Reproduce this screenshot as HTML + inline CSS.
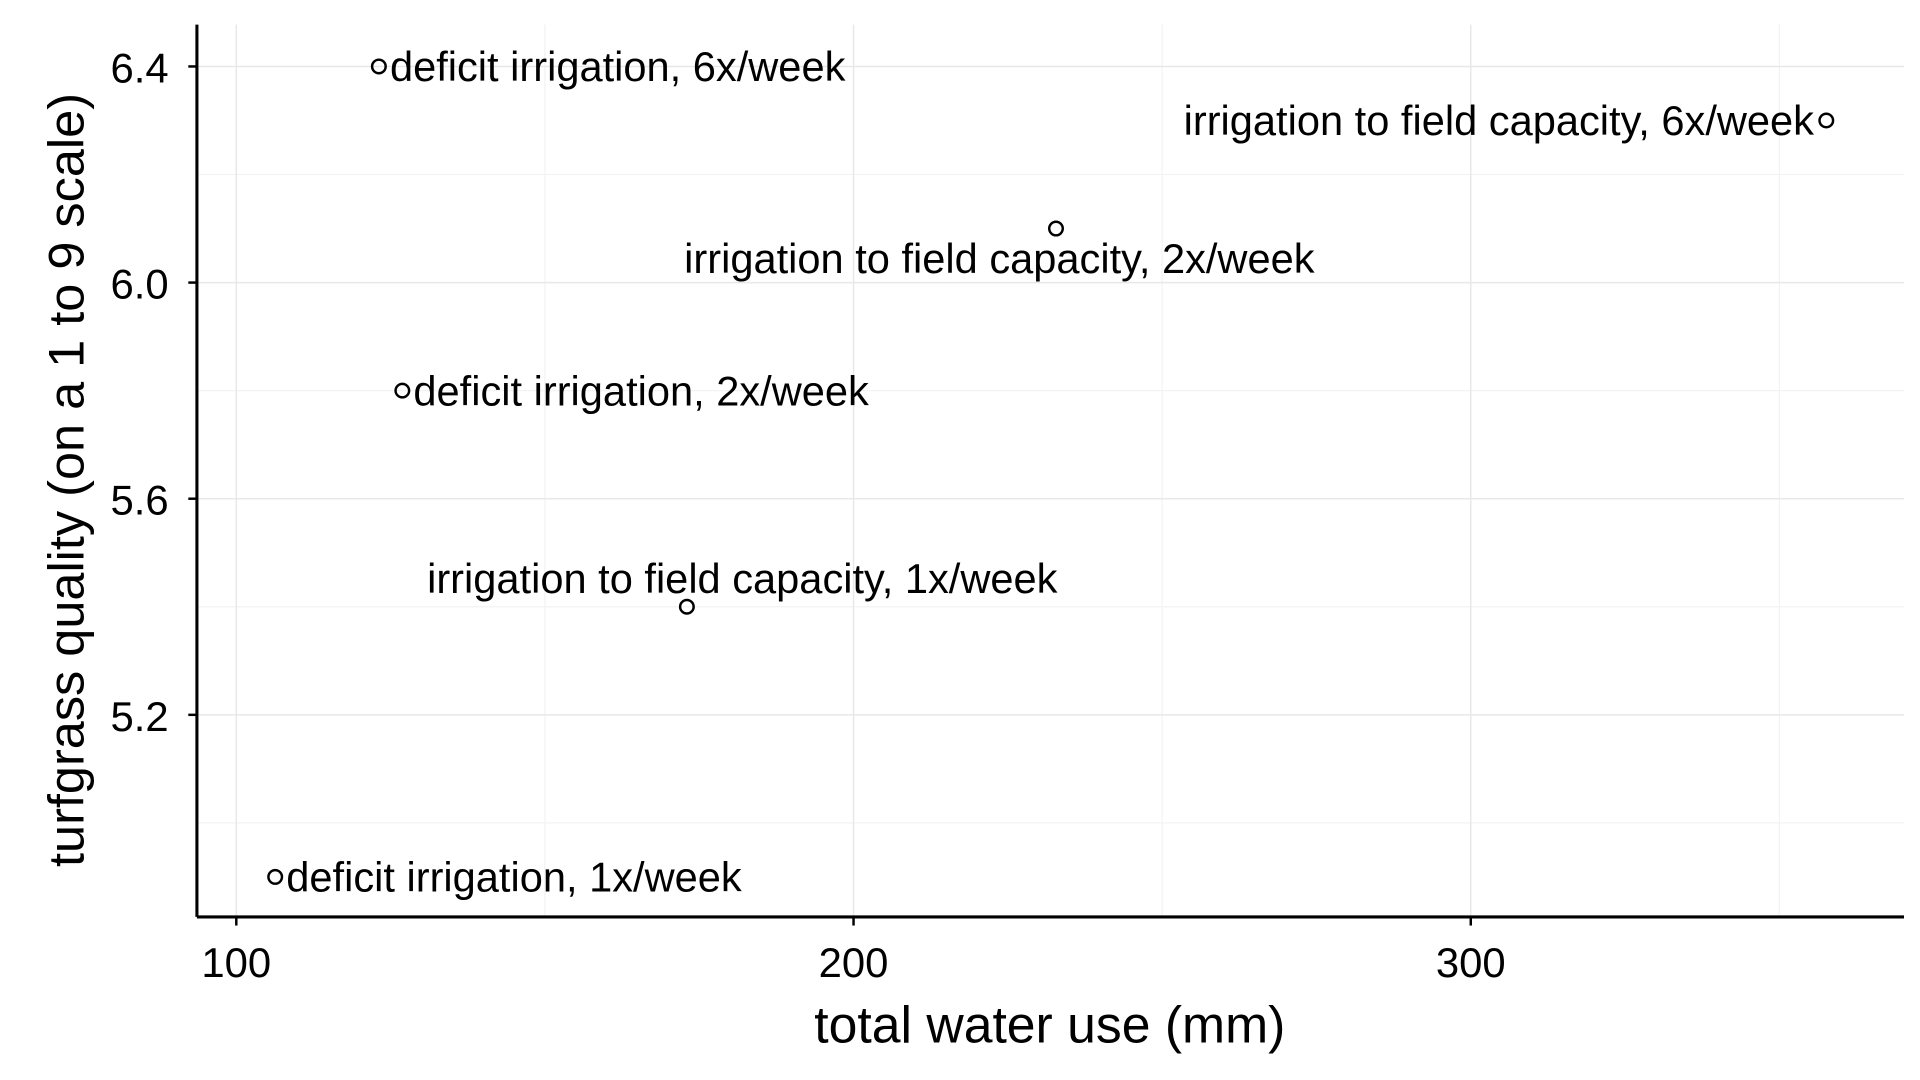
<!DOCTYPE html>
<html><head><meta charset="utf-8"><style>
html,body{margin:0;padding:0;background:#fff;overflow:hidden}
svg{display:block;font-family:"Liberation Sans",Arial,sans-serif}
</style></head><body>
<svg id="chart" width="1920" height="1080" viewBox="0 0 1560 877.5" preserveAspectRatio="none">
<g id="grid"></g>
<g id="axes"></g>
<g id="marks"></g>
<text x="853" y="847" font-size="42" text-anchor="middle">total water use (mm)</text>
<text transform="translate(68,390) rotate(-90)" font-size="41" text-anchor="middle">turfgrass quality (on a 1 to 9 scale)</text>
</svg>
<script>
const labels = ["deficit irrigation, 1x/week","deficit irrigation, 6x/week","deficit irrigation, 2x/week","irrigation to field capacity, 1x/week","irrigation to field capacity, 2x/week","irrigation to field capacity, 6x/week"];
const waterUse = [106.3, 123.1, 126.9, 173.0, 232.8, 357.6];
const quality = [4.9, 6.4, 5.8, 5.4, 6.1, 6.3];
const xTicks = [100, 200, 300];
const xMinor = [150, 250, 350];
const yTicks = [5.2, 5.6, 6.0, 6.4];
const yMinor = [5.0, 5.4, 5.8, 6.2];
// label placement: anchor and offsets (layout, not data)
const labAnchor = ["start","start","start","middle","middle","end"];
const labDx = [9, 9, 9, 45, -46, -10];
const labDy = [12, 12, 12, -11, 36, 12];

const L=160,R=1547,T=20,B=745;
const xs=v=>192+(v-100)*5.015;
const ys=v=>54+(6.4-v)*439;
const NS="http://www.w3.org/2000/svg";
function mk(tag,attrs,parent){const e=document.createElementNS(NS,tag);for(const k in attrs)e.setAttribute(k,attrs[k]);parent.appendChild(e);return e;}
const grid=document.getElementById('grid'),axes=document.getElementById('axes'),marks=document.getElementById('marks');
xMinor.forEach(v=>{const e=mk('line',{x1:xs(v),x2:xs(v),y1:T,y2:B,stroke:'#f3f3f3','stroke-width':1},grid);

});
yMinor.forEach(v=>{const e=mk('line',{x1:L,x2:R,y1:ys(v),y2:ys(v),stroke:'#f3f3f3','stroke-width':1},grid);

});
xTicks.forEach(v=>{const e=mk('line',{x1:xs(v),x2:xs(v),y1:T,y2:B,stroke:'#e8e8e8','stroke-width':1.2},grid);


const t=mk('line',{x1:xs(v),x2:xs(v),y1:B,y2:B+7,stroke:'#000','stroke-width':2},axes);


const l=mk('text',{x:xs(v),y:794,'font-size':34,'text-anchor':'middle'},axes);l.textContent=v;

});
yTicks.forEach(v=>{const e=mk('line',{x1:L,x2:R,y1:ys(v),y2:ys(v),stroke:'#e8e8e8','stroke-width':1.2},grid);


const t=mk('line',{x1:L-7,x2:L,y1:ys(v),y2:ys(v),stroke:'#000','stroke-width':2},axes);


const l=mk('text',{x:137,y:ys(v)+13,'font-size':34,'text-anchor':'end'},axes);l.textContent=v.toFixed(1);

});
const xa=mk('line',{x1:L,x2:R,y1:B,y2:B,stroke:'#000','stroke-width':2.5},axes);


const ya=mk('line',{x1:L,x2:L,y1:T,y2:B,stroke:'#000','stroke-width':2.5},axes);


waterUse.forEach((w,i)=>{const x=xs(w),y=ys(quality[i]);
const c=mk('circle',{cx:x,cy:y,r:5.5,fill:'none',stroke:'#000','stroke-width':2},marks);


const t=mk('text',{x:x+labDx[i],y:y+labDy[i],'font-size':33.8,'text-anchor':labAnchor[i]},marks);t.textContent=labels[i];

});
</script>
</body></html>
